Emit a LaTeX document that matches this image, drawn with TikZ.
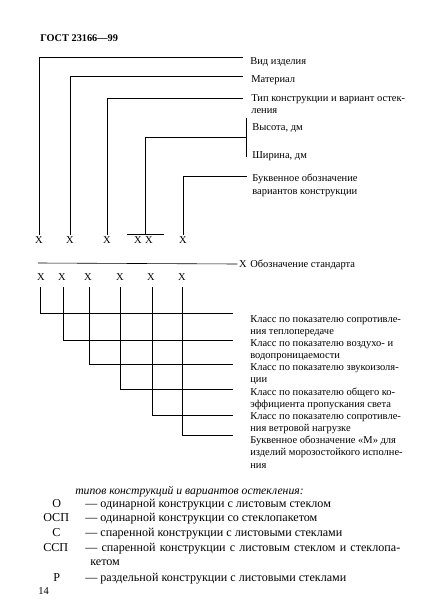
\documentclass[tikz,border=0pt]{standalone}
\usepackage{fontspec}
\setmainfont{Liberation Serif}
\begin{document}
\begin{tikzpicture}[x=1pt,y=-1pt,line width=0.6pt,
  lbl/.style={anchor=base west,inner sep=0pt,font=\fontsize{10.5}{12}\selectfont},
  xm/.style={inner sep=1.5pt,font=\fontsize{10.5}{12}\selectfont},
  leg/.style={anchor=base west,inner sep=0pt,font=\fontsize{12.1}{14}\selectfont},
  ttl/.style={anchor=base west,inner sep=0pt,font=\fontsize{10.3}{12}\selectfont\bfseries}]
\useasboundingbox (0,0) rectangle (435,616);
% title
\node[ttl] (title) at (40,41) {ГОСТ 23166—99};
% top labels
\node[lbl] (t1) at (250,64) {Вид изделия};
\node[lbl] (t2) at (251,82) {Материал};
\node[lbl] (t3a) at (251,101) {Тип конструкции и вариант остек-};
\node[lbl] (t3b) at (251,113) {ления};
\node[lbl] (t4) at (252,130) {Высота, дм};
\node[lbl] (t5) at (252,158) {Ширина, дм};
\node[lbl] (t6a) at (252,181) {Буквенное обозначение};
\node[lbl] (t6b) at (252,194) {вариантов конструкции};
% first row of X
\node[xm] (a1) at (39,240) {Х};
\node[xm] (a2) at (70,240) {Х};
\node[xm] (a3) at (107,240) {Х};
\node[xm] (a4) at (138,240) {Х};
\node[xm] (a5) at (149,240) {Х};
\node[xm] (a6) at (183,240) {Х};
\coordinate (e1) at (243,57);
\coordinate (e2) at (243,76);
\coordinate (e3) at (243,98);
\coordinate (bt) at (246,118);
\coordinate (bb) at (246,157);
\coordinate (bm) at (246,137);
\coordinate (e6) at (247,176);
\coordinate (ol) at (127,234);
\coordinate (or) at (164,234);
\coordinate (hw) at (145,234);
\draw (a1.north) |- (e1);
\draw (a2.north) |- (e2);
\draw (a3.north) |- (e3);
\draw (bt) -- (bb);
\draw (hw) |- (bm);
\draw (ol) -- (or);
\draw (a6.north) |- (e6);
% standard line
\node[xm] (xs) at (243,264) {Х};
\node[lbl] (ts) at (250,267) {Обозначение стандарта};
\coordinate (sl) at (38,263);
\draw (sl) -- (xs.west);
% second row of X
\node[xm] (b1) at (41,277) {Х};
\node[xm] (b2) at (62,277) {Х};
\node[xm] (b3) at (88,277) {Х};
\node[xm] (b4) at (120,277) {Х};
\node[xm] (b5) at (151,277) {Х};
\node[xm] (b6) at (182,277) {Х};
\coordinate (f1) at (233,313);
\coordinate (f2) at (233,340);
\coordinate (f3) at (233,364);
\coordinate (f4) at (233,389);
\coordinate (f5) at (233,415);
\coordinate (f6) at (233,435);
\draw (b1.south) ++(-1,5) |- (f1);
\draw (b2.south) ++(1,5) |- (f2);
\draw (b3.south) ++(1,5) |- (f3);
\draw (b4.south) ++(0,5) |- (f4);
\draw (b5.south) ++(1,5) |- (f5);
\draw (b6.south) ++(0,5) |- (f6);
% class labels
\node[lbl] (k1a) at (250,322) {Класс по показателю сопротивле-};
\node[lbl] (k1b) at (250,334) {ния теплопередаче};
\node[lbl] (k2a) at (250,346) {Класс по показателю воздухо- и};
\node[lbl] (k2b) at (250,358) {водопроницаемости};
\node[lbl] (k3a) at (250,370) {Класс по показателю звукоизоля-};
\node[lbl] (k3b) at (250,382) {ции};
\node[lbl] (k4a) at (250,395) {Класс по показателю общего ко-};
\node[lbl] (k4b) at (250,407) {эффициента пропускания света};
\node[lbl] (k5a) at (250,419) {Класс по показателю сопротивле-};
\node[lbl] (k5b) at (250,431) {ния ветровой нагрузке};
\node[lbl] (k6a) at (250,443) {Буквенное обозначение «М» для};
\node[lbl] (k6b) at (250,455) {изделий морозостойкого исполне-};
\node[lbl] (k6c) at (250,468) {ния};
% legend
\node[leg,font=\fontsize{11.7}{14}\selectfont\itshape] (lh) at (75,494) {типов конструкций и вариантов остекления:};
\node[leg] (c1) at (52,507) {О};
\node[leg] (c2) at (43,521) {ОСП};
\node[leg] (c3) at (52,536) {С};
\node[leg] (c4) at (43,551) {ССП};
\node[leg] (c5) at (53,581) {Р};
\node[leg] (d1) at (85,507) {— одинарной конструкции с листовым стеклом};
\node[leg] (d2) at (85,521) {— одинарной конструкции со стеклопакетом};
\node[leg] (d3) at (85,536) {— спаренной конструкции с листовыми стеклами};
\node[leg] (d4) at (85,551) {\makebox[315pt][s]{— спаренной конструкции с листовым стеклом и стеклопа-}};
\node[leg] (d4b) at (90,565) {кетом};
\node[leg] (d5) at (85,581) {— раздельной конструкции с листовыми стеклами};
\node[ttl,font=\fontsize{10.5}{12}\selectfont] (pg) at (38,594) {14};
\end{tikzpicture}
\end{document}
